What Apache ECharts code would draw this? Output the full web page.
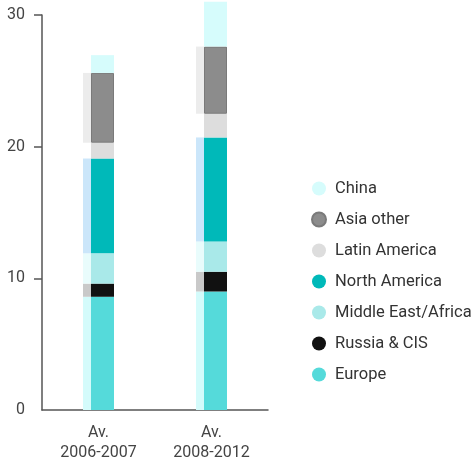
<!DOCTYPE html>
<html>
<head>
<meta charset="utf-8">
<style>
  html, body { margin: 0; padding: 0; background: #fff; }
  #chart { width: 474px; height: 463px; }
</style>
<script src="https://cdn.jsdelivr.net/npm/echarts@6/dist/echarts.min.js"></script>
</head>
<body>
<div id="chart"></div>
<script>
// Periods on the category axis
const periods = ['Av.\n2006-2007', 'Av.\n2008-2012'];

// Regions, stacked bottom to top
const regions = ['Europe', 'Russia & CIS', 'Middle East/Africa', 'North America', 'Latin America', 'Asia other', 'China'];

// Values per region (bottom to top), one per period
const europe      = [8.6, 9.0];
const russiaCis   = [1.0, 1.5];
const middleEast  = [2.3, 2.3];
const northAm     = [7.2, 7.9];
const latinAm     = [1.2, 1.8];
const asiaOther   = [5.3, 5.1];
const china       = [1.35, 3.4];

// Y-axis ticks
const yTicks = [0, 10, 20, 30];

const values = [europe, russiaCis, middleEast, northAm, latinAm, asiaOther, china];

// Fill colours of the bar segments, and of the pale strip on their left
const colors = ['#55dada', '#111111', '#a9e9e9', '#00b9b9', '#dddddd', '#8c8c8c', '#d6fcfc'];
const shadeColors = ['#d4fbfb', '#c9c9c9', '#e9fcfc', '#cbe6fa', 'rgba(0,0,0,0)', '#ececec', 'rgba(0,0,0,0)'];

const FONT = 'Roboto, sans-serif';

const series = [];
// Pale strip to the left of each bar
regions.forEach((r, i) => {
  series.push({
    name: r + ' (strip)',
    type: 'bar',
    stack: 'shade',
    barWidth: 8,
    barGap: 0,
    clip: false,
    silent: true,
    itemStyle: { color: shadeColors[i] },
    data: values[i]
  });
});
// Main stacked bars
regions.forEach((r, i) => {
  series.push({
    name: r,
    type: 'bar',
    stack: 'main',
    barWidth: 23,
    barGap: 0,
    clip: false,
    itemStyle: {
      color: colors[i],
      borderColor: r === 'Asia other' ? '#7a7a7a' : null,
      borderWidth: r === 'Asia other' ? 1 : 0
    },
    data: values[i]
  });
});

const chart = echarts.init(document.getElementById('chart'), null, { renderer: 'canvas' });
chart.setOption({
  animation: false,
  backgroundColor: '#ffffff',
  grid: { left: 42, right: 206, top: 15, bottom: 51.5, containLabel: false },
  legend: {
    data: regions.slice().reverse(),
    orient: 'vertical',
    left: 311,
    top: 180,
    padding: 0,
    icon: 'circle',
    itemWidth: 14,
    itemHeight: 14,
    itemGap: 14,
    textStyle: { fontFamily: FONT, fontSize: 16.5, color: '#333', padding: [0, 0, 0, 4] }
  },
  xAxis: {
    type: 'category',
    data: periods,
    axisLine: { lineStyle: { color: '#555', width: 1.5 } },
    axisTick: { show: false },
    axisLabel: { fontFamily: FONT, fontSize: 16, color: '#444', lineHeight: 20, margin: 13 }
  },
  yAxis: {
    type: 'value',
    min: yTicks[0],
    max: yTicks[yTicks.length - 1],
    interval: 10,
    splitLine: { show: false },
    axisLine: { show: true, lineStyle: { color: '#555', width: 1.5 } },
    axisTick: { show: true, length: 8, customValues: yTicks.slice(1), lineStyle: { color: '#555', width: 1.5 } },
    axisLabel: { fontFamily: FONT, fontSize: 16, color: '#444', margin: 17 }
  },
  series: series
});
</script>
</body>
</html>
